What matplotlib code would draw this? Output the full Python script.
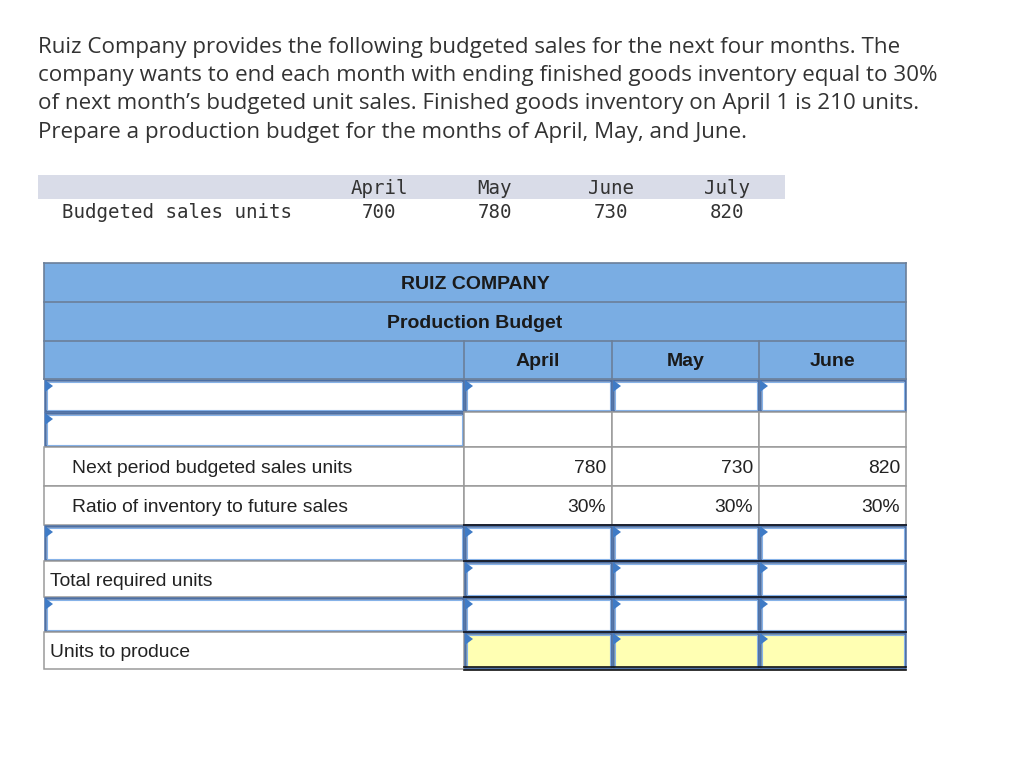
import matplotlib
matplotlib.use("Agg")
import matplotlib.pyplot as plt
from matplotlib.patches import Rectangle, Polygon

# ---- data ----
intro = ["Ruiz Company provides the following budgeted sales for the next four months. The",
         "company wants to end each month with ending finished goods inventory equal to 30%",
         "of next month\u2019s budgeted unit sales. Finished goods inventory on April 1 is 210 units.",
         "Prepare a production budget for the months of April, May, and June."]
sales_months = ["April", "May", "June", "July"]
sales_units = [700, 780, 730, 820]
title1 = "RUIZ COMPANY"
title2 = "Production Budget"
budget_months = ["April", "May", "June"]
row_labels = ["", "", "Next period budgeted sales units", "Ratio of inventory to future sales",
              "", "Total required units", "", "Units to produce"]
next_sales = [780, 730, 820]
ratio = ["30%", "30%", "30%"]

# ---- layout (pixels) ----
W, H = 1024, 767
fig = plt.figure(figsize=(W / 100, H / 100), dpi=100)
ax = fig.add_axes([0, 0, 1, 1])
ax.set_xlim(0, W)
ax.set_ylim(H, 0)
ax.axis("off")

BLUE = "#7aade3"
GRID = "#9a9a9a"
INBORDER = "#4d6fa3"
INNER = "#86b2e8"
TRI = "#3f7bc6"
TXT = "#222222"

for i, line in enumerate(intro):
    ax.text(38, 47 + i * 28.5, line, fontsize=16.1, family="Open Sans", color="#333333",
            va="center", ha="left")

# small sales table
ax.add_patch(Rectangle((38, 175), 747, 24, facecolor="#d9dce8", edgecolor="none"))
sx = [379, 495, 611, 727]
mono = dict(fontsize=13.8, family="DejaVu Sans Mono", va="center", color="#333333")
for x, m, v in zip(sx, sales_months, sales_units):
    ax.text(x, 188, m, ha="center", **mono)
    ax.text(x, 213, str(v), ha="center", **mono)
ax.text(62, 213, "Budgeted sales units", ha="left", **mono)

# main table
L, R = 44, 906
cols = [44, 464, 612, 759, 906]
hdr = [263, 302, 341, 379]
tops = [379, 412, 447, 486, 525, 561, 597, 632, 669]

ax.add_patch(Rectangle((L, hdr[0]), R - L, hdr[3] - hdr[0], facecolor=BLUE, edgecolor="none"))
for y in hdr:
    ax.plot([L, R], [y, y], color="#6b7f99", lw=1.2)
ax.plot([L, L], [hdr[0], hdr[3]], color="#6b7f99", lw=1.2)
ax.plot([R, R], [hdr[0], hdr[3]], color="#6b7f99", lw=1.2)
for x in cols[1:-1]:
    ax.plot([x, x], [hdr[2], hdr[3]], color="#6b7f99", lw=1.2)
tf = dict(family="Liberation Sans", fontsize=14.0, weight="bold", color="#1a1a1a",
          ha="center", va="center")
ax.text((L + R) / 2, (hdr[0] + hdr[1]) / 2 + 2, title1, **tf)
ax.text((L + R) / 2, (hdr[1] + hdr[2]) / 2 + 2, title2, **tf)
for i, m in enumerate(budget_months):
    ax.text((cols[i + 1] + cols[i + 2]) / 2, (hdr[2] + hdr[3]) / 2 + 2, m, **tf)


def plain(x0, x1, y0, y1):
    ax.add_patch(Rectangle((x0, y0), x1 - x0, y1 - y0, facecolor="white", edgecolor=GRID, lw=1.1))


def inp(x0, x1, y0, y1, fc="white"):
    ax.add_patch(Rectangle((x0 + 1, y0 + 1), x1 - x0 - 2, y1 - y0 - 2, facecolor=fc,
                           edgecolor=INBORDER, lw=1.8))
    ax.add_patch(Rectangle((x0 + 2.5, y0 + 2.5), x1 - x0 - 5, y1 - y0 - 5, facecolor="none",
                           edgecolor=INNER, lw=0.8))
    ax.add_patch(Polygon([(x0 + 1, y0 + 1), (x0 + 1, y0 + 13), (x0 + 9, y0 + 7)],
                         closed=True, facecolor=TRI, edgecolor="none"))


nf = dict(family="Liberation Sans", fontsize=13.9, color=TXT, va="center")
for r, lab in enumerate(row_labels):
    y0, y1 = tops[r], tops[r + 1]
    ym = (y0 + y1) / 2 + 2
    # label column
    if r in (0, 1, 4, 6):
        inp(cols[0], cols[1], y0, y1)
    else:
        plain(cols[0], cols[1], y0, y1)
        indent = 72 if r in (2, 3) else 50
        ax.text(indent, ym, lab, ha="left", **nf)
    # month columns
    for c in range(3):
        x0, x1 = cols[c + 1], cols[c + 2]
        if r == 0 or r >= 4:
            inp(x0, x1, y0, y1, "#ffffb3" if r == 7 else "white")
        else:
            plain(x0, x1, y0, y1)
            if r == 2:
                ax.text(x1 - 6, ym, str(next_sales[c]), ha="right", **nf)
            elif r == 3:
                ax.text(x1 - 6, ym, ratio[c], ha="right", **nf)

# dark rules over the input rows and the double underline under units to produce
for y in tops[4:8]:
    ax.plot([cols[1], R], [y, y], color="#1c2230", lw=1.4)
ax.plot([cols[1], R], [667, 667], color="#111111", lw=1.2)
ax.plot([cols[1], R], [670, 670], color="#111111", lw=1.2)

fig.savefig("out.png", dpi=100)
